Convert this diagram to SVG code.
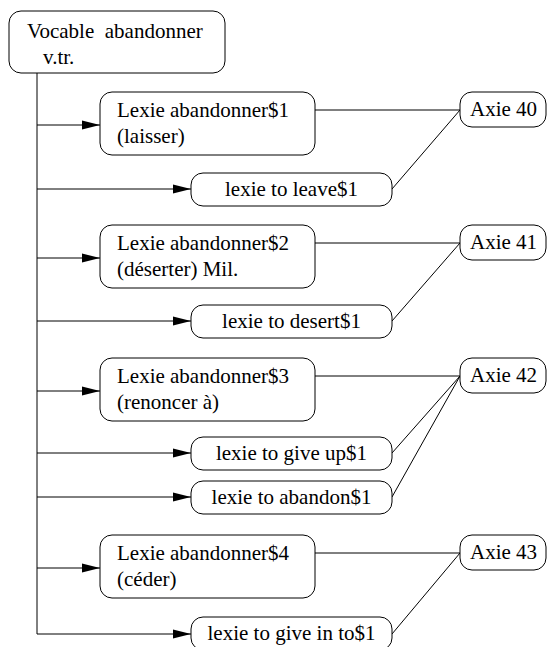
<svg xmlns="http://www.w3.org/2000/svg" width="547" height="647" viewBox="0 0 547 647">
  <style>
    .box { fill: #ffffff; stroke: #000000; stroke-width: 1; }
    .lbl { font-family: "Liberation Serif", "Times New Roman", serif; font-size: 21px; fill: #000000; }
    .mid { text-anchor: middle; }
    .edge { fill: none; stroke: #000000; stroke-width: 1; }
  </style>
  <defs>
    <marker id="arrow" markerUnits="userSpaceOnUse" markerWidth="18" markerHeight="10" refX="18" refY="5" orient="auto">
      <path d="M0,0.5 L18,5 L0,9.5 z" fill="#000000"/>
    </marker>
  </defs>
  <rect width="547" height="647" fill="#ffffff"/>

  <!-- connectors -->
  <g id="connectors">
    <!-- trunk from the vocable -->
    <path class="edge" d="M37,73 V634"/>
    <!-- branches to lexies -->
    <path class="edge" d="M37,125 H100" marker-end="url(#arrow)"/>
    <path class="edge" d="M37,189 H191" marker-end="url(#arrow)"/>
    <path class="edge" d="M37,258 H100" marker-end="url(#arrow)"/>
    <path class="edge" d="M37,321 H191" marker-end="url(#arrow)"/>
    <path class="edge" d="M37,391 H100" marker-end="url(#arrow)"/>
    <path class="edge" d="M37,453 H191" marker-end="url(#arrow)"/>
    <path class="edge" d="M37,497 H191" marker-end="url(#arrow)"/>
    <path class="edge" d="M37,568 H100" marker-end="url(#arrow)"/>
    <path class="edge" d="M37,634 H191" marker-end="url(#arrow)"/>
    <!-- links to axies -->
    <path class="edge" d="M315,110 H460"/>
    <path class="edge" d="M460,110 L392,189"/>
    <path class="edge" d="M315,243 H460"/>
    <path class="edge" d="M460,243 L392,321"/>
    <path class="edge" d="M315,376 H460"/>
    <path class="edge" d="M460,376 L392,453"/>
    <path class="edge" d="M460,376 L392,497"/>
    <path class="edge" d="M315,553 H460"/>
    <path class="edge" d="M460,553 L392,634"/>
  </g>

  <g id="vocable">
    <rect class="box" x="9" y="11" width="216" height="62" rx="12"/>
    <text class="lbl" x="27" y="38" xml:space="preserve">Vocable  abandonner</text>
    <text class="lbl" x="43" y="64">v.tr.</text>
  </g>

  <g id="lexie-abandonner-1">
    <rect class="box" x="100" y="92" width="215" height="63" rx="12"/>
    <text class="lbl" x="117" y="117">Lexie abandonner$1</text>
    <text class="lbl" x="117" y="143">(laisser)</text>
  </g>
  <g id="lexie-to-leave-1">
    <rect class="box" x="191" y="173" width="201" height="33" rx="12"/>
    <text class="lbl mid" x="291.5" y="196">lexie to leave$1</text>
  </g>
  <g id="axie-40">
    <rect class="box" x="460" y="92" width="86" height="35" rx="12"/>
    <text class="lbl" x="470" y="116">Axie 40</text>
  </g>

  <g id="lexie-abandonner-2">
    <rect class="box" x="100" y="225" width="215" height="63" rx="12"/>
    <text class="lbl" x="117" y="250">Lexie abandonner$2</text>
    <text class="lbl" x="117" y="276">(déserter) Mil.</text>
  </g>
  <g id="lexie-to-desert-1">
    <rect class="box" x="191" y="305" width="201" height="33" rx="12"/>
    <text class="lbl mid" x="291.5" y="328">lexie to desert$1</text>
  </g>
  <g id="axie-41">
    <rect class="box" x="460" y="225" width="86" height="35" rx="12"/>
    <text class="lbl" x="470" y="249">Axie 41</text>
  </g>

  <g id="lexie-abandonner-3">
    <rect class="box" x="100" y="358" width="215" height="63" rx="12"/>
    <text class="lbl" x="117" y="383">Lexie abandonner$3</text>
    <text class="lbl" x="117" y="409">(renoncer à)</text>
  </g>
  <g id="lexie-to-give-up-1">
    <rect class="box" x="191" y="437" width="201" height="33" rx="12"/>
    <text class="lbl mid" x="291.5" y="460">lexie to give up$1</text>
  </g>
  <g id="lexie-to-abandon-1">
    <rect class="box" x="191" y="481" width="201" height="33" rx="12"/>
    <text class="lbl mid" x="291.5" y="504">lexie to abandon$1</text>
  </g>
  <g id="axie-42">
    <rect class="box" x="460" y="358" width="86" height="35" rx="12"/>
    <text class="lbl" x="470" y="382">Axie 42</text>
  </g>

  <g id="lexie-abandonner-4">
    <rect class="box" x="100" y="535" width="215" height="63" rx="12"/>
    <text class="lbl" x="117" y="560">Lexie abandonner$4</text>
    <text class="lbl" x="117" y="586">(céder)</text>
  </g>
  <g id="lexie-to-give-in-to-1">
    <rect class="box" x="191" y="617" width="201" height="33" rx="12"/>
    <text class="lbl mid" x="291.5" y="640">lexie to give in to$1</text>
  </g>
  <g id="axie-43">
    <rect class="box" x="460" y="535" width="86" height="35" rx="12"/>
    <text class="lbl" x="470" y="559">Axie 43</text>
  </g>
</svg>
